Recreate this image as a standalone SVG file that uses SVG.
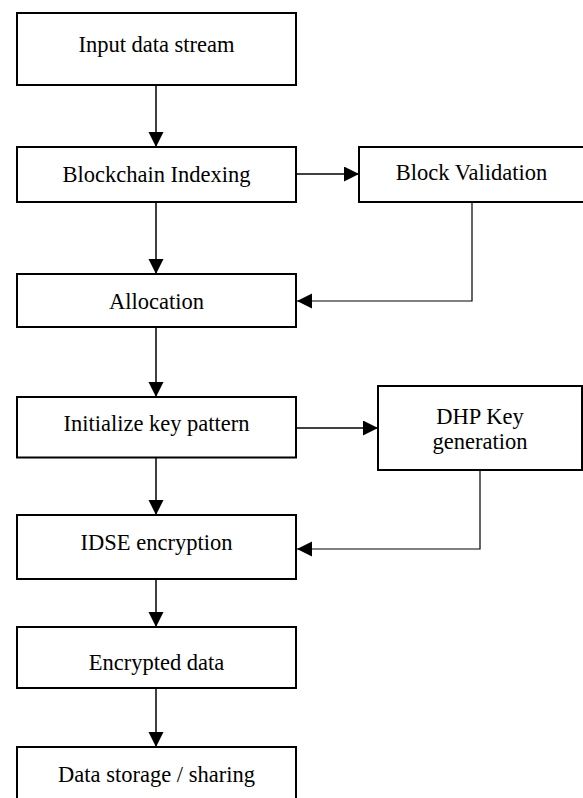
<svg xmlns="http://www.w3.org/2000/svg" width="583" height="798" viewBox="0 0 583 798">
<style>
.box{fill:#fff;stroke:#000;stroke-width:2}
.lbl{font-family:'Liberation Serif','Times New Roman',serif;font-size:22.5px;fill:#000;text-anchor:middle}
.c{fill:none;stroke:#000;stroke-width:1.5}
.f{fill:none;stroke:#000;stroke-width:1.2}
</style>
<defs>
<marker id="ah" markerUnits="userSpaceOnUse" markerWidth="16" markerHeight="16" refX="15" refY="7.5" orient="auto">
<path d="M0,0 L15,7.5 L0,15 z" fill="#000"/>
</marker>
</defs>
<rect width="583" height="798" fill="#fff"/>
<g id="connectors">
<line class="c" x1="156" y1="86" x2="156" y2="147" marker-end="url(#ah)"/>
<line class="c" x1="297" y1="174" x2="359" y2="174" marker-end="url(#ah)"/>
<line class="c" x1="156" y1="203" x2="156" y2="274" marker-end="url(#ah)"/>
<polyline class="f" points="472,203 472,301 297,301" marker-end="url(#ah)"/>
<line class="c" x1="156" y1="328" x2="156" y2="397" marker-end="url(#ah)"/>
<line class="c" x1="297" y1="428" x2="378" y2="428" marker-end="url(#ah)"/>
<line class="c" x1="156" y1="458" x2="156" y2="515" marker-end="url(#ah)"/>
<polyline class="f" points="480,471 480,549 297,549" marker-end="url(#ah)"/>
<line class="c" x1="156" y1="580" x2="156" y2="627" marker-end="url(#ah)"/>
<line class="c" x1="156" y1="689" x2="156" y2="747" marker-end="url(#ah)"/>
</g>
<g id="input">
<rect class="box" x="17" y="13" width="279" height="72"/>
<text class="lbl" x="156.5" y="51.5">Input data stream</text>
</g>
<g id="indexing">
<rect class="box" x="17" y="147" width="279" height="55"/>
<text class="lbl" x="156.5" y="181.5">Blockchain Indexing</text>
</g>
<g id="validation">
<rect class="box" x="359" y="147" width="240" height="55"/>
<text class="lbl" x="471.5" y="180">Block Validation</text>
</g>
<g id="allocation">
<rect class="box" x="17" y="274" width="279" height="53"/>
<text class="lbl" x="156.5" y="309">Allocation</text>
</g>
<g id="initialize">
<rect class="box" x="17" y="397" width="279" height="60.5"/>
<text class="lbl" x="156.5" y="430.5">Initialize key pattern</text>
</g>
<g id="dhp">
<rect class="box" x="378" y="386" width="204" height="84"/>
<text class="lbl" x="480" y="424">DHP Key</text>
<text class="lbl" x="480" y="449">generation</text>
</g>
<g id="idse">
<rect class="box" x="17" y="515" width="279" height="64"/>
<text class="lbl" x="156.5" y="550">IDSE encryption</text>
</g>
<g id="encrypted">
<rect class="box" x="17" y="627" width="279" height="61"/>
<text class="lbl" x="156.5" y="669.5">Encrypted data</text>
</g>
<g id="storage">
<rect class="box" x="17" y="747" width="279" height="60"/>
<text class="lbl" x="156.5" y="781.5">Data storage / sharing</text>
</g>
</svg>
